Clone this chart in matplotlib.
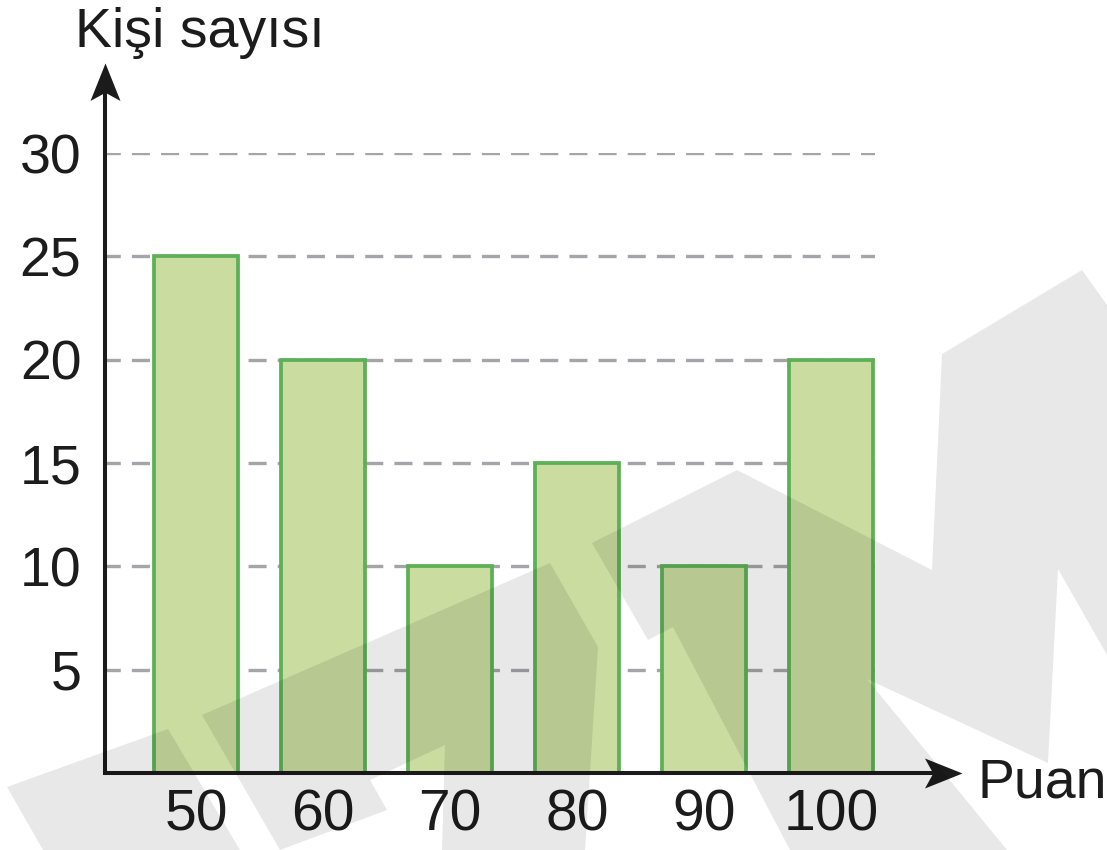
import matplotlib
matplotlib.use("Agg")
import matplotlib.pyplot as plt
from matplotlib.path import Path
from matplotlib.patches import PathPatch

plt.rcParams['font.family'] = ['Liberation Sans', 'DejaVu Sans']
plt.rcParams['lines.scale_dashes'] = False

# ---- data ----
categories = ["50", "60", "70", "80", "90", "100"]
values = [25, 20, 10, 15, 10, 20]
y_ticks = [5, 10, 15, 20, 25, 30]
x_title = "Puan"
y_title = "Kişi sayısı"

# ---- background watermark (decoration, pixel coords of the page) ----
watermark_shapes = [
    [(7, 787), (168, 729), (240, 850), (43, 850)],
    [(202, 715), (550, 563), (598, 647), (585, 850), (442, 850), (445, 745),
     (370, 780), (387, 810), (280, 850)],
    [(592, 543), (737, 470), (932, 570), (942, 354), (1082, 270), (1107, 305),
     (1107, 655), (1058, 569), (1048, 763), (867, 679), (1007, 850), (790, 850),
     (673, 627), (648, 640)],
]

W, H = 1107, 850
fig = plt.figure(figsize=(W / 100, H / 100), dpi=100)

# axes placed in page pixels: x 105..875, y 773 (0) .. 153 (30)
left, right, bottom, top = 105, 875, 773, 153
ax = fig.add_axes([left / W, 1 - bottom / H, (right - left) / W, (bottom - top) / H])

pos = list(range(len(categories)))
bar_fill = "#cadc9f"
bar_edge = "#5cb055"
ax.bar(pos, values, width=0.655, color=bar_fill, edgecolor=bar_edge,
       linewidth=2.7, zorder=3)

ax.set_xlim(-0.717, 5.346)
ax.set_ylim(0, 30)

for v in y_ticks:
    ax.axhline(v, color="#a5a5a9", linewidth=2.4, linestyle=(2, (13, 8)),
               zorder=1)

txt_col = "#1c1c1c"
ax.set_yticks(y_ticks)
ax.set_yticklabels([str(v) for v in y_ticks], fontsize=40, color=txt_col)
ax.set_xticks(pos)
ax.set_xticklabels(categories, fontsize=41, color=txt_col)
ax.tick_params(axis='both', length=0)
ax.tick_params(axis='y', pad=17)
ax.tick_params(axis='x', pad=11)
for s in ax.spines.values():
    s.set_visible(False)
ax.patch.set_alpha(0)

axis_col = "#1b1b1b"
ax_w, ax_h = right - left, bottom - top
x_tip = (962 - left) / ax_w
y_tip = (bottom - 63) / ax_h
# axis lines
ax.plot([-0.003, x_tip - 0.02], [0, 0], color=axis_col, lw=2.9,
        transform=ax.transAxes, clip_on=False, zorder=5, solid_capstyle='butt')
ax.plot([0, 0], [-0.003, y_tip - 0.03], color=axis_col, lw=2.9,
        transform=ax.transAxes, clip_on=False, zorder=5, solid_capstyle='butt')

# notched arrowheads as custom markers (tip at the marker origin)
right_head = Path([(0, 0), (-1, 0.40), (-0.78, 0), (-1, -0.40), (0, 0)],
                  [Path.MOVETO, Path.LINETO, Path.LINETO, Path.LINETO, Path.CLOSEPOLY])
up_head = Path([(0, 0), (0.40, -1), (0, -0.78), (-0.40, -1), (0, 0)],
               [Path.MOVETO, Path.LINETO, Path.LINETO, Path.LINETO, Path.CLOSEPOLY])
ax.plot([x_tip], [0], marker=right_head, ms=54, color=axis_col, mew=0,
        transform=ax.transAxes, clip_on=False, zorder=6)
ax.plot([0], [y_tip], marker=up_head, ms=54, color=axis_col, mew=0,
        transform=ax.transAxes, clip_on=False, zorder=6)

fig.text(75 / W, 1 - 47 / H, y_title, fontsize=40, color=txt_col,
         ha='left', va='baseline')
fig.text(977 / W, 1 - 798 / H, x_title, fontsize=40, color=txt_col,
         ha='left', va='baseline')

# watermark overlay (translucent, so it darkens what lies beneath)
verts, codes = [], []
for shp in watermark_shapes:
    pts = [(x / W, 1 - y / H) for x, y in shp]
    verts += pts + [pts[0]]
    codes += [Path.MOVETO] + [Path.LINETO] * (len(pts) - 1) + [Path.CLOSEPOLY]
wm = PathPatch(Path(verts, codes), facecolor="black", edgecolor="none",
               alpha=0.09, transform=fig.transFigure, zorder=10)
fig.add_artist(wm)

fig.savefig("out.png", dpi=100, facecolor="white")
